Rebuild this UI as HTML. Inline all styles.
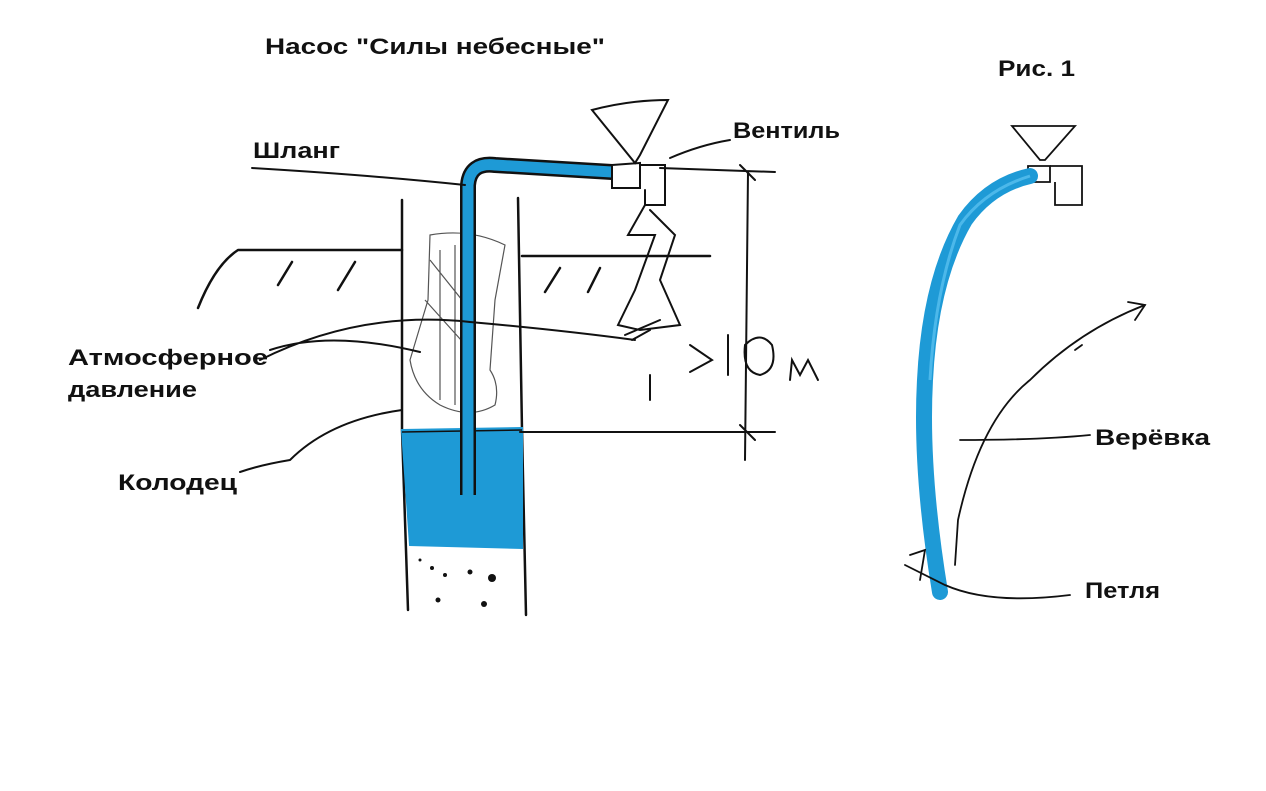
<!DOCTYPE html>
<html><head><meta charset="utf-8"><style>
html,body{margin:0;padding:0;background:#fff;}
svg{display:block;}
text{font-family:"Liberation Sans","DejaVu Sans",sans-serif;font-weight:bold;fill:#111;font-size:22px;}
</style></head><body>
<svg width="1266" height="791" viewBox="0 0 1266 791" xmlns="http://www.w3.org/2000/svg">
<g fill="none" stroke="#111" stroke-width="2.5" stroke-linecap="round" stroke-linejoin="round">
<path d="M198,308 Q215,265 238,250 L402,250"/>
<path d="M292,262 L278,285 M355,262 L338,290"/>
<path d="M522,256 L710,256"/>
<path d="M560,268 L545,292 M600,268 L588,292"/>
<path d="M402,200 L402,430 L408,610"/>
<path d="M518,198 L522,430 L526,615"/>
</g>
<path d="M402,430 L522,428 L522,548 L410,545 Z" fill="#1e9ad6" stroke="#1e9ad6" stroke-width="2"/>
<line x1="402" y1="432" x2="522" y2="430" stroke="#111" stroke-width="1.5"/>
<g fill="#111">
<circle cx="432" cy="568" r="2"/><circle cx="470" cy="572" r="2.5"/><circle cx="492" cy="578" r="4"/>
<circle cx="445" cy="575" r="2"/><circle cx="438" cy="600" r="2.5"/><circle cx="484" cy="604" r="3"/>
<circle cx="420" cy="560" r="1.5"/>
</g>
<g fill="none" stroke="#555" stroke-width="1.2">
<path d="M430,235 Q470,228 505,245 L495,300 L490,370 Q500,385 495,405 Q470,420 440,405 Q415,390 410,360 L428,300 Z"/>
<path d="M440,250 L440,400 M455,245 L455,405 M425,300 L470,350 M430,260 L470,310"/>
</g>
<path d="M468,495 L468,185 Q470,162 495,165 L612,172" fill="none" stroke="#111" stroke-width="16" stroke-linejoin="round"/>
<path d="M468,495 L468,185 Q470,162 495,165 L612,172" fill="none" stroke="#1e9ad6" stroke-width="11" stroke-linejoin="round"/>
<g fill="none" stroke="#111" stroke-width="2" stroke-linecap="round">
<path d="M612,165 L640,163 L640,188 L612,188 Z"/>
<path d="M640,165 L665,165 L665,205 L645,205 L645,190"/>
<path d="M592,110 Q630,100 668,100 L640,155 L635,163 Z"/>
<path d="M645,205 L628,235 L655,235 L635,290 L618,325 L640,330 L680,325 L660,280 L675,235 L650,210"/>
<path d="M650,330 L632,340 M660,320 L625,335"/>
<path d="M660,168 L775,172 M748,172 L745,460 M520,432 L775,432 M740,425 L755,440 M740,165 L755,180"/>
<path d="M690,345 L712,360 L690,372"/>
<path d="M728,335 L728,375"/>
<path d="M745,345 Q760,330 772,345 Q778,370 760,375 Q742,372 745,345 Z"/>
<path d="M790,380 L792,360 L800,375 L808,360 L818,380"/>
<path d="M650,375 L650,400"/>
<path d="M252,168 Q370,175 465,185"/>
<path d="M670,158 Q700,145 730,140"/>
<path d="M270,350 Q330,330 420,352 M260,360 Q360,310 470,322 Q560,330 635,340"/>
<path d="M240,472 Q260,465 290,460 Q330,420 402,410"/>
</g>
<g fill="none" stroke="#111" stroke-width="1.8">
<path d="M1012,126 L1075,126 L1045,160 L1040,160 Z"/>
<path d="M1028,166 L1050,166 L1050,182 L1028,182 Z"/>
<path d="M1050,166 L1082,166 L1082,205 L1055,205 L1055,182"/>
</g>
<path d="M1030,176 Q990,185 965,220 Q930,280 925,380 Q920,470 940,592" fill="none" stroke="#1e9ad6" stroke-width="16" stroke-linecap="round"/>
<path d="M1030,176 Q985,190 960,225 Q935,290 930,380" fill="none" stroke="#4cb8ea" stroke-width="3"/>
<g fill="none" stroke="#111" stroke-width="1.8" stroke-linecap="round">
<path d="M955,565 L958,520 Q980,420 1030,380 Q1080,330 1145,305"/>
<path d="M1128,302 L1145,305 L1135,320"/>
<path d="M1075,350 L1082,345"/>
<path d="M960,440 Q1040,440 1090,435"/>
<path d="M910,555 L925,550 L920,580 M905,565 L945,585 Q990,605 1070,595"/>
</g>
<text x="265" y="54" textLength="340" lengthAdjust="spacingAndGlyphs">Насос "Силы небесные"</text>
<text x="998" y="76" textLength="77" lengthAdjust="spacingAndGlyphs">Рис. 1</text>
<text x="733" y="138" textLength="107" lengthAdjust="spacingAndGlyphs">Вентиль</text>
<text x="253" y="158" textLength="87" lengthAdjust="spacingAndGlyphs">Шланг</text>
<text x="68" y="365" textLength="200" lengthAdjust="spacingAndGlyphs">Атмосферное</text>
<text x="68" y="397" textLength="129" lengthAdjust="spacingAndGlyphs">давление</text>
<text x="118" y="490" textLength="119" lengthAdjust="spacingAndGlyphs">Колодец</text>
<text x="1095" y="445" textLength="115" lengthAdjust="spacingAndGlyphs">Верёвка</text>
<text x="1085" y="598" textLength="75" lengthAdjust="spacingAndGlyphs">Петля</text>
</svg>
</body></html>
